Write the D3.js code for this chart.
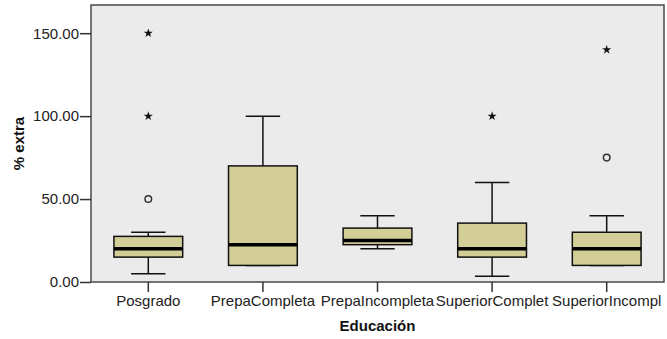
<!DOCTYPE html>
<html>
<head>
  <meta charset="utf-8">
  <title>% extra por Educación</title>
  <script src="https://d3js.org/d3.v7.min.js"></script>
  <style>
    body {
      margin: 0;
      background: #fff;
    }
    text {
      font-family: Arial, "Liberation Sans", sans-serif;
    }
  </style>
</head>
<body>
  <div id="chart"></div>
  <script>
    // Data
    var categories = ["Posgrado", "PrepaCompleta", "PrepaIncompleta", "SuperiorComplet", "SuperiorIncompl"];
    var whiskerLow = [5, 10, 20, 3.5, 10];
    var q1 = [15, 10, 22.5, 15, 10];
    var median = [20, 22.5, 25, 20, 20];
    var q3 = [27.5, 70, 32.5, 35.5, 30];
    var whiskerHigh = [30, 100, 40, 60, 40];
    // circles = outliers, stars = extreme values
    var outlierCats = ["Posgrado", "SuperiorIncompl"];
    var outlierVals = [50, 75];
    var extremeCats = ["Posgrado", "Posgrado", "SuperiorComplet", "SuperiorIncompl"];
    var extremeVals = [100, 150, 100, 140];
    var yTicks = [0, 50, 100, 150];

    var width = 667;
    var height = 339;
    var margin = { top: 5, right: 3, bottom: 57, left: 91 };

    var svg = d3.select("#chart")
      .append("svg")
      .attr("width", width)
      .attr("height", height);

    var x = d3.scaleBand()
      .domain(categories)
      .range([margin.left, width - margin.right])
      .padding(0);

    var y = d3.scaleLinear()
      .domain([0, 167])
      .range([height - margin.bottom, margin.top]);

    var boxW = x.bandwidth() * 0.6;
    var capW = boxW / 2;

    // plot background
    svg.append("rect")
      .attr("x", margin.left)
      .attr("y", margin.top)
      .attr("width", width - margin.left - margin.right)
      .attr("height", height - margin.top - margin.bottom)
      .attr("fill", "#ebebeb")
      .attr("stroke", "#4a4a4a")
      .attr("stroke-width", 1.5);

    var boxes = categories.map(function(c, i) {
      return { cat: c, lo: whiskerLow[i], q1: q1[i], med: median[i], q3: q3[i], hi: whiskerHigh[i] };
    });

    var g = svg.selectAll("g.box")
      .data(boxes)
      .enter()
      .append("g")
      .attr("class", "box")
      .attr("transform", function(d) { return "translate(" + (x(d.cat) + x.bandwidth() / 2) + ",0)"; });

    // whiskers
    g.append("line")
      .attr("x1", 0).attr("x2", 0)
      .attr("y1", function(d) { return y(d.hi); })
      .attr("y2", function(d) { return y(d.lo); })
      .attr("stroke", "#111")
      .attr("stroke-width", 1.5);

    g.append("line")
      .attr("x1", -capW / 2).attr("x2", capW / 2)
      .attr("y1", function(d) { return y(d.hi); })
      .attr("y2", function(d) { return y(d.hi); })
      .attr("stroke", "#111")
      .attr("stroke-width", 1.5);

    g.append("line")
      .attr("x1", -capW / 2).attr("x2", capW / 2)
      .attr("y1", function(d) { return y(d.lo); })
      .attr("y2", function(d) { return y(d.lo); })
      .attr("stroke", "#111")
      .attr("stroke-width", 1.5);

    // box
    g.append("rect")
      .attr("x", -boxW / 2)
      .attr("width", boxW)
      .attr("y", function(d) { return y(d.q3); })
      .attr("height", function(d) { return y(d.q1) - y(d.q3); })
      .attr("fill", "#d3ce97")
      .attr("stroke", "#111")
      .attr("stroke-width", 1.5);

    // median
    g.append("line")
      .attr("x1", -boxW / 2).attr("x2", boxW / 2)
      .attr("y1", function(d) { return y(d.med); })
      .attr("y2", function(d) { return y(d.med); })
      .attr("stroke", "#000")
      .attr("stroke-width", 3.5);

    // outliers
    svg.selectAll("circle.outlier")
      .data(outlierVals)
      .enter()
      .append("circle")
      .attr("class", "outlier")
      .attr("cx", function(d, i) { return x(outlierCats[i]) + x.bandwidth() / 2; })
      .attr("cy", function(d) { return y(d); })
      .attr("r", 3.3)
      .attr("fill", "none")
      .attr("stroke", "#333")
      .attr("stroke-width", 1.5);

    // extremes
    var star = d3.symbol().type(d3.symbolStar).size(26);
    svg.selectAll("path.extreme")
      .data(extremeVals)
      .enter()
      .append("path")
      .attr("class", "extreme")
      .attr("d", star)
      .attr("transform", function(d, i) {
        return "translate(" + (x(extremeCats[i]) + x.bandwidth() / 2) + "," + y(d) + ")";
      })
      .attr("fill", "#111");

    // axes
    var yAxis = d3.axisLeft(y)
      .tickValues(yTicks)
      .tickFormat(d3.format(".2f"))
      .tickSize(11)
      .tickPadding(1);

    var ya = svg.append("g")
      .attr("transform", "translate(" + margin.left + ",0)")
      .call(yAxis);
    ya.select(".domain").remove();
    ya.selectAll("line").attr("stroke", "#333").attr("stroke-width", 1.5);
    ya.selectAll("text")
      .attr("fill", "#222")
      .style("font-size", "15px");

    var xAxis = d3.axisBottom(x)
      .tickSize(10)
      .tickPadding(3);

    var xa = svg.append("g")
      .attr("transform", "translate(0," + (height - margin.bottom) + ")")
      .call(xAxis);
    xa.select(".domain").remove();
    xa.selectAll("line").attr("stroke", "#333").attr("stroke-width", 1.5);
    xa.selectAll("text")
      .attr("fill", "#222")
      .style("font-size", "15px");

    // axis titles
    svg.append("text")
      .attr("x", (margin.left + width - margin.right) / 2)
      .attr("y", 331)
      .attr("text-anchor", "middle")
      .style("font-size", "15px")
      .style("font-weight", "bold")
      .attr("fill", "#111")
      .text("Educación");

    svg.append("text")
      .attr("transform", "translate(24," + ((margin.top + height - margin.bottom) / 2) + ") rotate(-90)")
      .attr("text-anchor", "middle")
      .style("font-size", "15px")
      .style("font-weight", "bold")
      .attr("fill", "#111")
      .text("% extra");
  </script>
</body>
</html>
